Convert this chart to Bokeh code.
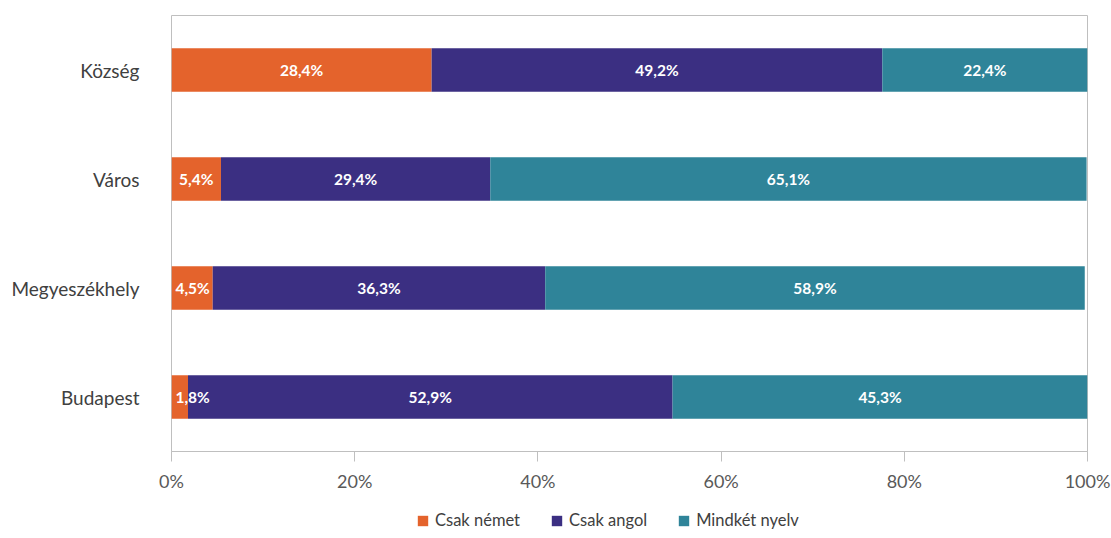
from bokeh.plotting import figure
from bokeh.layouts import column
from bokeh.models import ColumnDataSource, FactorRange, FixedTicker, Legend, LegendItem, PrintfTickFormatter
from bokeh.core.properties import value
from bokeh.embed import file_html
from bokeh.resources import INLINE

categories = ["Község", "Város", "Megyeszékhely", "Budapest"]
csak_nemet = [28.4, 5.4, 4.5, 1.8]
csak_angol = [49.2, 29.4, 36.3, 52.9]
mindket_nyelv = [22.4, 65.1, 58.9, 45.3]
series_names = ["Csak német", "Csak angol", "Mindkét nyelv"]
colors = ["#E4632C", "#3B2F82", "#2F8499"]
x_ticks = [0, 20, 40, 60, 80, 100]

FONT = "Lato"

source = ColumnDataSource(dict(cat=categories, nemet=csak_nemet, angol=csak_angol, mind=mindket_nyelv))

p = figure(
    y_range=FactorRange(factors=list(reversed(categories))),
    x_range=(0, 100),
    width=1111, height=498,
    min_border_left=171, min_border_right=24, min_border_top=15, min_border_bottom=47,
    output_backend="svg", toolbar_location=None,
)

renderers = p.hbar_stack(["nemet", "angol", "mind"], y="cat", height=0.4, color=colors,
                         line_color=None, source=source)

# labels at segment centers (narrow first segments are nudged to stay inside the frame)
lab_x, lab_y, lab_t = [], [], []
for i, c in enumerate(categories):
    start = 0.0
    for series in (csak_nemet, csak_angol, mindket_nyelv):
        v = series[i]
        lab_x.append(max(start + v / 2, 2.3))
        lab_y.append(c)
        lab_t.append(f"{v:.1f}".replace(".", ",") + "%")
        start += v
lab_src = ColumnDataSource(dict(x=lab_x, y=lab_y, t=lab_t))
p.text(x="x", y="y", text="t", source=lab_src, text_align="center", text_baseline="middle",
       text_color="white", text_font=value(FONT), text_font_style="bold", text_font_size="15.5px")

p.xgrid.visible = False
p.ygrid.visible = False
p.outline_line_color = "#BFBFBF"
p.outline_line_width = 1

p.xaxis.ticker = FixedTicker(ticks=x_ticks)
p.xaxis.formatter = PrintfTickFormatter(format="%d%%")
p.xaxis.minor_tick_line_color = None
p.xaxis.major_tick_out = 10
p.xaxis.major_tick_in = 0
p.xaxis.major_label_standoff = 8
p.xaxis.axis_line_color = "#BFBFBF"
p.xaxis.major_tick_line_color = "#BFBFBF"
p.xaxis.major_label_text_font = FONT
p.xaxis.major_label_text_font_size = "18px"
p.xaxis.major_label_text_color = "#595959"

p.yaxis.axis_line_color = None
p.yaxis.major_tick_line_color = None
p.yaxis.minor_tick_line_color = None
p.yaxis.major_label_standoff = 26
p.yaxis.major_label_text_font = FONT
p.yaxis.major_label_text_font_size = "19px"
p.yaxis.major_label_text_color = "#404040"

# legend strip below the chart
lg = figure(
    width=1111, height=38, x_range=(0, 100), y_range=FactorRange(factors=categories),
    min_border=0, x_axis_type=None, y_axis_type=None,
    output_backend="svg", toolbar_location=None,
)
lg.outline_line_color = None
lg.xgrid.visible = False
lg.ygrid.visible = False
lg_renderers = lg.hbar_stack(["nemet", "angol", "mind"], y="cat", height=0.0, color=colors,
                             line_color=None, source=source)
legend = Legend(
    items=[LegendItem(label=n, renderers=[r]) for n, r in zip(series_names, lg_renderers)],
    orientation="horizontal", location=(245, 6),
    label_text_font=FONT, label_text_font_size="16.5px", label_text_color="#404040",
    glyph_width=13, glyph_height=13, spacing=30, label_standoff=6, label_height=18,
    border_line_color=None, background_fill_alpha=0, margin=0, padding=4,
)
lg.add_layout(legend, "center")

open("out.html", "w").write(file_html(column(p, lg, spacing=0), INLINE))
